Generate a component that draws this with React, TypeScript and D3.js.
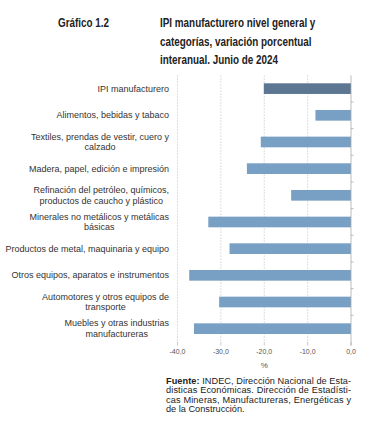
import React, { useEffect, useRef } from 'react'
import * as d3 from 'd3'

const categories = [
  'IPI manufacturero',
  'Alimentos, bebidas y tabaco',
  'Textiles, prendas de vestir, cuero y|calzado',
  'Madera, papel, edición e impresión',
  'Refinación del petróleo, químicos,|productos de caucho y plástico',
  'Minerales no metálicos y metálicas|básicas',
  'Productos de metal, maquinaria y equipo',
  'Otros equipos, aparatos e instrumentos',
  'Automotores y otros equipos de|transporte',
  'Muebles y otras industrias|manufactureras',
]
const values = [-20.1, -8.2, -20.8, -24.0, -13.8, -32.9, -28.0, -37.3, -30.4, -36.2]
const ticks = [-40, -30, -20, -10, 0]
const titleLines = ['IPI manufacturero nivel general y', 'categorías, variación porcentual', 'interanual. Junio de 2024']
const sourceLines = [
  'INDEC, Dirección Nacional de Esta-',
  'disticas Económicas. Dirección de Estadísti-',
  'cas Mineras, Manufactureras, Energéticas y',
  'de la Construcción.',
]

const W = 365
const H = 433
const left = 177.5
const right = 351
const top = 75.3
const bottom = 342

export default function App() {
  const ref = useRef<SVGSVGElement>(null)

  useEffect(() => {
    const svg = d3.select(ref.current)
    svg.selectAll('*').remove()

    const x = d3.scaleLinear().domain([-40, 0]).range([left, right])
    const y = d3.scaleBand().domain(categories).range([top, bottom]).paddingInner(0.6).paddingOuter(0.3)

    const cond = '"Liberation Sans Narrow", "Arial Narrow", sans-serif'
    const sans = '"Liberation Sans", Arial, sans-serif'

    // title, squeezed to look like a narrow face
    svg.append('text').attr('y', 27).attr('font-family', cond).attr('font-weight', 'bold')
      .attr('font-size', 12).attr('fill', '#222').text('Gráfico 1.2')
      .attr('transform', 'translate(58,0) scale(0.824,1)')
    titleLines.forEach((l, i) => {
      svg.append('text').attr('y', 27 + i * 18.6)
        .attr('font-family', cond).attr('font-weight', 'bold').attr('font-size', 12).attr('fill', '#222')
        .text(l)
        .attr('transform', 'translate(160,0) scale(0.824,1)')
    })

    // grid
    const grid = svg.append('g')
    grid.selectAll('line.g').data(ticks.slice(0, -1)).join('line').attr('class', 'g')
      .attr('x1', d => x(d)).attr('x2', d => x(d)).attr('y1', top).attr('y2', bottom)
      .attr('stroke', '#c8c8c8').attr('stroke-width', 0.8).attr('stroke-dasharray', '1.5,1.5')
    grid.selectAll('line.t').data(ticks).join('line').attr('class', 't')
      .attr('x1', d => x(d)).attr('x2', d => x(d)).attr('y1', bottom).attr('y2', bottom + 3.5)
      .attr('stroke', '#bbb').attr('stroke-width', 0.8)

    // bars
    svg.append('g').selectAll('rect').data(values).join('rect')
      .attr('x', d => x(d)).attr('width', d => x(0) - x(d))
      .attr('y', (d, i) => y(categories[i])!).attr('height', y.bandwidth())
      .attr('fill', (d, i) => (i === 0 ? '#5d7793' : '#789fc4'))

    // zero axis
    svg.append('line').attr('x1', x(0)).attr('x2', x(0)).attr('y1', top).attr('y2', bottom + 3.5)
      .attr('stroke', '#aaa').attr('stroke-width', 0.8)
    const step = y.step()
    svg.append('g').selectAll('line').data(d3.range(1, categories.length)).join('line')
      .attr('x1', x(0)).attr('x2', x(0) + 2.5)
      .attr('y1', i => top + i * step).attr('y2', i => top + i * step)
      .attr('stroke', '#aaa').attr('stroke-width', 0.8)

    // category labels
    const lab = svg.append('g').attr('font-family', sans).attr('font-size', 9).attr('fill', '#333')
    categories.forEach(c => {
      const lines = c.split('|')
      const cy = y(c)! + y.bandwidth() / 2
      const t = lab.append('text').attr('text-anchor', 'middle')
      lines.forEach((l, i) => {
        t.append('tspan').attr('x', 0).attr('y', cy + 3.1 + (i - (lines.length - 1) / 2) * 10.6).text(l)
      })
      const w = d3.max(t.selectAll<SVGTSpanElement, unknown>('tspan').nodes(), n => n.getComputedTextLength()) || 0
      t.selectAll('tspan').attr('x', 169 - w / 2)
    })

    // x tick labels
    svg.append('g').selectAll('text').data(ticks).join('text')
      .attr('x', d => x(d)).attr('y', 354).attr('text-anchor', 'middle')
      .attr('font-family', sans).attr('font-size', 7).attr('fill', '#555')
      .text(d => d3.format('.1f')(d).replace('−', '-').replace('.', ','))
    svg.append('text').attr('x', (left + right) / 2).attr('y', 368).attr('text-anchor', 'middle')
      .attr('font-family', sans).attr('font-size', 8).attr('fill', '#555').text('%')

    // source, justified like the original
    const src = svg.append('g').attr('font-family', sans).attr('font-size', 9.2).attr('fill', '#222')
    sourceLines.forEach((l, i) => {
      const t = src.append('text').attr('x', 166).attr('y', 383.5 + i * 9.6)
      if (i === 0) t.append('tspan').attr('font-weight', 'bold').text('Fuente: ')
      t.append('tspan').text(l)
      if (i < sourceLines.length - 1) t.attr('textLength', 185).attr('lengthAdjust', 'spacing')
    })
  }, [])

  return (
    <div style={{ position: 'absolute', left: 0, top: 0, width: W, height: H, background: '#fff' }}>
      <svg ref={ref} width={W} height={H} />
    </div>
  )
}
